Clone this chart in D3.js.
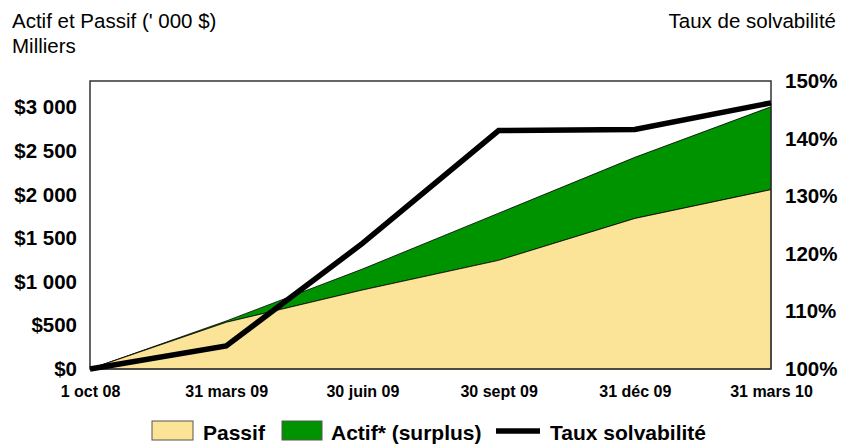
<!DOCTYPE html>
<html>
<head>
<meta charset="utf-8">
<script src="https://cdn.jsdelivr.net/npm/d3@7"></script>
<style>
  body { margin: 0; background: #fff; }
  svg { font-family: "Liberation Sans", Arial, sans-serif; }
</style>
</head>
<body>
<svg id="chart" width="842" height="445"></svg>
<script>
const dates = ["1 oct 08", "31 mars 09", "30 juin 09", "30 sept 09", "31 déc 09", "31 mars 10"];
const passif = [0, 535, 905, 1245, 1725, 2055];
const actif = [0, 550, 1145, 1785, 2425, 3005];
const taux = [100, 104, 121.8, 141.4, 141.6, 146.2];
const leftTicks = [0, 500, 1000, 1500, 2000, 2500, 3000];
const rightTicks = [100, 110, 120, 130, 140, 150];

const svg = d3.select("#chart");
const margin = { top: 81, right: 71, bottom: 76, left: 90 };
const W = 842, H = 445;
const FONT = "Liberation Sans, Arial, sans-serif";

const x = d3.scalePoint().domain(dates).range([margin.left, W - margin.right]);
const yL = d3.scaleLinear().domain([0, 3300]).range([H - margin.bottom, margin.top]);
const yR = d3.scaleLinear().domain([100, 150]).range([H - margin.bottom, margin.top]);

const data = dates.map((d, i) => ({ d, p: passif[i], a: actif[i], t: taux[i] }));

svg.append("rect")
  .attr("x", margin.left).attr("y", margin.top)
  .attr("width", W - margin.left - margin.right)
  .attr("height", H - margin.top - margin.bottom)
  .attr("fill", "#fff");

// surplus area (between passif and actif)
svg.append("path")
  .datum(data)
  .attr("d", d3.area().x(d => x(d.d)).y0(d => yL(d.p)).y1(d => yL(d.a)))
  .attr("fill", "#009300").attr("stroke", "#000").attr("stroke-width", 0.8);

svg.append("path")
  .datum(data)
  .attr("d", d3.area().x(d => x(d.d)).y0(yL(0)).y1(d => yL(d.p)))
  .attr("fill", "#fbe497").attr("stroke", "#000").attr("stroke-width", 0.8);

// plot frame
svg.append("rect")
  .attr("x", margin.left).attr("y", margin.top)
  .attr("width", W - margin.left - margin.right)
  .attr("height", H - margin.top - margin.bottom)
  .attr("fill", "none").attr("stroke", "#333").attr("stroke-width", 1.5);

// ratio line
svg.append("path")
  .datum(data)
  .attr("d", d3.line().x(d => x(d.d)).y(d => yR(d.t)))
  .attr("fill", "none").attr("stroke", "#000").attr("stroke-width", 5.5)
  .attr("stroke-linejoin", "miter");

// left axis
const axL = svg.append("g")
  .attr("transform", `translate(${margin.left},0)`)
  .call(d3.axisLeft(yL).tickValues(leftTicks).tickSize(0).tickPadding(13)
    .tickFormat(v => "$" + d3.format(",")(v).replace(",", " ")));
axL.select(".domain").remove();
axL.selectAll("text").attr("font-size", 20.5).attr("font-weight", "bold")
  .attr("fill", "#000").attr("font-family", FONT);

// right axis
const axR = svg.append("g")
  .attr("transform", `translate(${W - margin.right},0)`)
  .call(d3.axisRight(yR).tickValues(rightTicks).tickSize(0).tickPadding(14)
    .tickFormat(v => v + "%"));
axR.select(".domain").remove();
axR.selectAll("text").attr("font-size", 20.5).attr("font-weight", "bold")
  .attr("fill", "#000").attr("font-family", FONT);

// bottom axis
const axB = svg.append("g")
  .attr("transform", `translate(0,${H - margin.bottom})`)
  .call(d3.axisBottom(x).tickSize(0).tickPadding(17));
axB.select(".domain").remove();
axB.selectAll("text").attr("font-size", 16).attr("font-weight", "bold")
  .attr("fill", "#000").attr("font-family", FONT);

// titles
svg.append("text").attr("x", 12).attr("y", 28).attr("font-size", 20.5)
  .text("Actif et Passif (' 000 $)");
svg.append("text").attr("x", 12).attr("y", 53).attr("font-size", 20.5)
  .text("Milliers");
svg.append("text").attr("x", 836).attr("y", 28).attr("font-size", 20.5)
  .attr("text-anchor", "end").text("Taux de solvabilité");

// legend
const lg = svg.append("g").attr("font-size", 21).attr("font-weight", "bold");
lg.append("rect").attr("x", 152).attr("y", 421).attr("width", 41).attr("height", 19)
  .attr("fill", "#fbe497").attr("stroke", "#555");
lg.append("text").attr("x", 203).attr("y", 440).text("Passif");
lg.append("rect").attr("x", 282).attr("y", 421).attr("width", 40).attr("height", 19)
  .attr("fill", "#009300").attr("stroke", "#555");
lg.append("text").attr("x", 331).attr("y", 440).text("Actif* (surplus)");
lg.append("line").attr("x1", 496).attr("x2", 540).attr("y1", 431).attr("y2", 431)
  .attr("stroke", "#000").attr("stroke-width", 5.5);
lg.append("text").attr("x", 550).attr("y", 440).text("Taux solvabilité");
</script>
</body>
</html>
